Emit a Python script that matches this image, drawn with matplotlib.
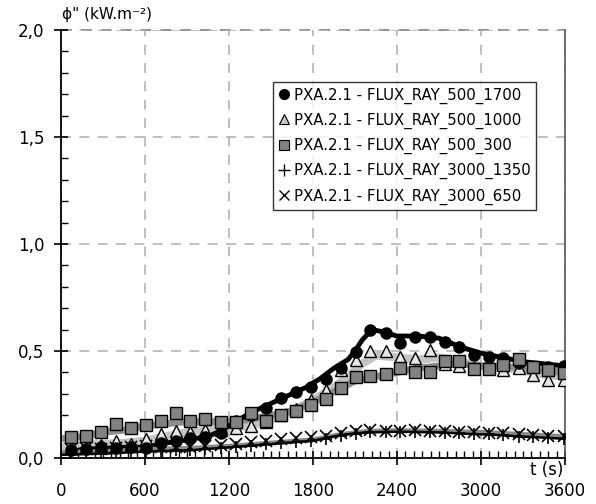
import matplotlib
matplotlib.use("Agg")
import matplotlib.pyplot as plt
from matplotlib.lines import Line2D
from matplotlib.ticker import MultipleLocator

# data
# continuous records (s, kW/m2)
t_1700 = [0, 150, 300, 450, 600, 750, 900, 1050, 1150, 1250, 1350, 1450, 1550, 1650, 1750,
          1850, 1950, 2050, 2100, 2150, 2220, 2300, 2400, 2550, 2700, 2850, 3000, 3150,
          3300, 3450, 3600]
v_1700 = [0.02, 0.04, 0.045, 0.05, 0.05, 0.07, 0.085, 0.10, 0.13, 0.17, 0.21, 0.24, 0.27,
          0.30, 0.33, 0.37, 0.42, 0.46, 0.50, 0.55, 0.60, 0.59, 0.57, 0.57, 0.56, 0.52,
          0.49, 0.47, 0.45, 0.44, 0.43]
t_1000 = [0, 150, 300, 450, 600, 750, 900, 1050, 1200, 1350, 1500, 1650, 1800, 1950, 2050,
          2150, 2250, 2400, 2550, 2700, 2850, 3000, 3150, 3300, 3450, 3600]
v_1000 = [0.05, 0.06, 0.065, 0.07, 0.08, 0.10, 0.12, 0.13, 0.14, 0.15, 0.18, 0.22, 0.27,
          0.33, 0.38, 0.44, 0.48, 0.47, 0.46, 0.47, 0.45, 0.43, 0.42, 0.41, 0.39, 0.38]
t_300 = [0, 150, 300, 450, 600, 750, 900, 1050, 1200, 1350, 1500, 1650, 1800, 1950, 2100,
         2250, 2400, 2550, 2700, 2850, 3000, 3150, 3300, 3450, 3600]
v_300 = [0.09, 0.10, 0.12, 0.13, 0.15, 0.16, 0.17, 0.17, 0.17, 0.18, 0.20, 0.22, 0.26,
         0.31, 0.36, 0.38, 0.40, 0.42, 0.43, 0.44, 0.43, 0.43, 0.42, 0.41, 0.40]
t_1350 = [0, 300, 600, 900, 1200, 1500, 1700, 1800, 1900, 2000, 2100, 2200, 2400, 2700,
          2900, 3100, 3300, 3600]
v_1350 = [0.015, 0.02, 0.03, 0.035, 0.05, 0.065, 0.076, 0.08, 0.095, 0.107, 0.115, 0.12,
          0.123, 0.12, 0.113, 0.108, 0.10, 0.09]
t_650 = [0, 300, 600, 900, 1200, 1500, 1800, 2000, 2200, 2400, 2700, 3000, 3300, 3600]
v_650 = [0.025, 0.03, 0.04, 0.045, 0.055, 0.07, 0.085, 0.11, 0.125, 0.128, 0.125, 0.12,
         0.11, 0.10]

# marker points
t_mk = [75, 180, 285, 395, 500, 605, 715, 820, 925, 1030, 1140, 1250, 1355, 1465, 1570,
        1680, 1785, 1890, 2000, 2105, 2210, 2320, 2425, 2530, 2635, 2740, 2845, 2950,
        3055, 3160, 3270, 3375, 3480, 3590]
m_1700 = [0.037, 0.04, 0.053, 0.045, 0.053, 0.045, 0.072, 0.081, 0.092, 0.096,
          0.115, 0.175, 0.2, 0.235, 0.279, 0.31, 0.333, 0.37, 0.42, 0.497,
          0.598, 0.583, 0.536, 0.567, 0.567, 0.544, 0.52, 0.481, 0.473, 0.466,
          0.443, 0.427, 0.427, 0.43]
m_1000 = [0.045, 0.05, 0.061, 0.079, 0.064, 0.087, 0.112, 0.126, 0.123, 0.131,
          0.131, 0.14, 0.151, 0.17, 0.2, 0.23, 0.27, 0.32, 0.41, 0.458,
          0.501, 0.501, 0.47, 0.466, 0.503, 0.44, 0.43, 0.42, 0.42, 0.41,
          0.419, 0.388, 0.364, 0.366]
m_300 = [0.097, 0.104, 0.123, 0.157, 0.138, 0.154, 0.173, 0.209, 0.173, 0.180,
         0.170, 0.170, 0.209, 0.174, 0.201, 0.221, 0.246, 0.276, 0.326, 0.380,
         0.385, 0.391, 0.422, 0.403, 0.403, 0.453, 0.453, 0.414, 0.414, 0.435,
         0.461, 0.424, 0.411, 0.396]
m_1350 = [0.02, 0.022, 0.025, 0.028, 0.03, 0.032, 0.034, 0.036, 0.038, 0.042,
          0.046, 0.05, 0.057, 0.064, 0.07, 0.076, 0.08, 0.09, 0.105, 0.114,
          0.12, 0.122, 0.123, 0.122, 0.121, 0.118, 0.115, 0.112, 0.11, 0.106,
          0.1, 0.097, 0.094, 0.091]
m_650 = [0.04, 0.045, 0.04, 0.045, 0.05, 0.056, 0.05, 0.05, 0.05, 0.056,
         0.06, 0.066, 0.075, 0.08, 0.088, 0.093, 0.096, 0.103, 0.115, 0.126,
         0.131, 0.126, 0.126, 0.131, 0.128, 0.126, 0.123, 0.123, 0.118, 0.115,
         0.111, 0.107, 0.104, 0.103]

labels = ["PXA.2.1 - FLUX_RAY_500_1700", "PXA.2.1 - FLUX_RAY_500_1000",
          "PXA.2.1 - FLUX_RAY_500_300", "PXA.2.1 - FLUX_RAY_3000_1350",
          "PXA.2.1 - FLUX_RAY_3000_650"]
xticks = [0, 600, 1200, 1800, 2400, 3000, 3600]
yticks = [0.0, 0.5, 1.0, 1.5, 2.0]
ytick_labels = ["0,0", "0,5", "1,0", "1,5", "2,0"]

plt.rcParams['font.family'] = ['DejaVu Sans']

fig = plt.figure(figsize=(5.96, 5.04), dpi=100)
ax = fig.add_axes([0.1023, 0.0913, 0.8456, 0.849])

# noisy records drawn as thick bands
ax.plot(t_1000, v_1000, color='#c4c4c4', lw=6, zorder=2, solid_joinstyle='round')
ax.plot(t_300, v_300, color='#8e8e8e', lw=5, zorder=2.1, solid_joinstyle='round')
ax.plot(t_1700, v_1700, color='black', lw=3.5, zorder=2.2, solid_joinstyle='round')
ax.plot(t_650, v_650, color='#8a8a8a', lw=3.5, zorder=2.3)
ax.plot(t_1350, v_1350, color='black', lw=1.8, zorder=2.4)

ax.plot(t_mk, m_650, ls='none', marker='x', ms=8, mew=1.2, color='black', zorder=3)
ax.plot(t_mk, m_1350, ls='none', marker='+', ms=9, mew=1.2, color='black', zorder=3.1)
ax.plot(t_mk, m_1000, ls='none', marker='^', ms=9, mfc='#e6e6e6', mec='black', mew=1, zorder=3.2)
ax.plot(t_mk, m_1700, ls='none', marker='o', ms=8, mfc='black', mec='black', zorder=3.3)
ax.plot(t_mk, m_300, ls='none', marker='s', ms=8.5, mfc='#828282', mec='black', mew=1, zorder=3.4)

ax.set_xlim(0, 3600)
ax.set_ylim(0, 2.0)
ax.set_xticks(xticks)
ax.set_xticklabels([str(x) for x in xticks])
ax.set_yticks(yticks)
ax.set_yticklabels(ytick_labels)
ax.xaxis.set_minor_locator(MultipleLocator(60))
ax.yaxis.set_minor_locator(MultipleLocator(0.1))
ax.tick_params(which='major', direction='inout', length=10, width=1.2, labelsize=12)
ax.tick_params(axis='x', which='major', pad=12)
ax.tick_params(axis='y', which='major', pad=7)
ax.tick_params(which='minor', direction='in', length=5, width=1)
ax.tick_params(right=False, top=False, which='both')

ax.grid(True, which='major', ls=(0, (6, 5)), color='#b4b4b4', lw=1.2, zorder=0)
ax.spines['top'].set_visible(False)
ax.spines['left'].set_linewidth(1.3)
ax.spines['bottom'].set_linewidth(1.3)
ax.spines['right'].set_color('#555555')
ax.spines['right'].set_linewidth(1.2)
ax.axhline(2.0, color='#8a8a8a', ls=(0, (6, 5)), lw=1.3, zorder=1, clip_on=False)

handles = [
    Line2D([], [], ls='none', marker='o', ms=7, mfc='black', mec='black'),
    Line2D([], [], ls='none', marker='^', ms=7, mfc='#c8c8c8', mec='black', mew=0.8),
    Line2D([], [], ls='none', marker='s', ms=7, mfc='#828282', mec='black', mew=0.8),
    Line2D([], [], ls='none', marker='+', ms=8, mew=1, color='black'),
    Line2D([], [], ls='none', marker='x', ms=7, mew=1, color='black'),
]
leg = ax.legend(handles, labels, loc='upper left', bbox_to_anchor=(0.42, 0.878),
                fontsize=10.8, frameon=True, fancybox=False, edgecolor='black',
                handlelength=0.8, handletextpad=0.25, labelspacing=0.6,
                borderpad=0.35, borderaxespad=0)
leg.get_frame().set_linewidth(1)
leg.set_zorder(10)

fig.text(62 / 596, 1 - 15 / 504, 'ϕ" (kW.m⁻²)', fontsize=11, ha='left', va='center')
fig.text(563 / 596, 1 - 470 / 504, 't (s)', fontsize=12, ha='right', va='center')

fig.savefig('out.png', dpi=100)
